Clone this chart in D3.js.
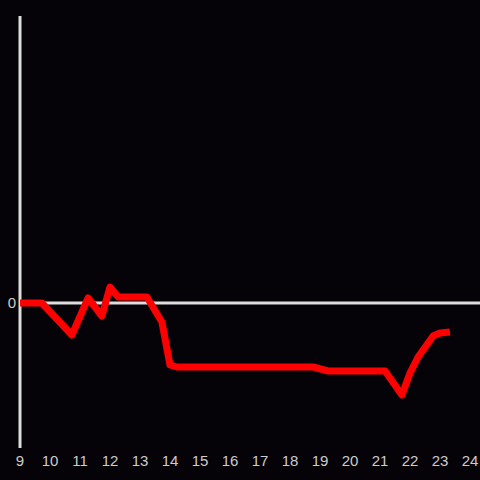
<!DOCTYPE html>
<html>
<head>
<meta charset="utf-8">
<script src="https://cdn.jsdelivr.net/npm/d3@7"></script>
<style>
  html, body { margin: 0; padding: 0; background: #050308; }
  svg { display: block; }
</style>
</head>
<body>
<div id="chart"></div>
<script>
// hour of day, and value at that hour
var hours  = [9.0, 9.73, 10.73, 11.27, 11.73, 12.0, 12.27, 13.23, 13.73, 14.0, 14.23, 18.77, 19.27, 21.17, 21.73, 22.0, 22.27, 22.77, 23.0, 23.33];
var values = [0, 0, -3.2, 0.5, -1.3, 1.6, 0.6, 0.6, -1.9, -6.2, -6.4, -6.4, -6.8, -6.8, -9.2, -7.0, -5.4, -3.3, -3.0, -2.9];
var xTicks = d3.range(9, 25);
var yTicks = [0];

var width = 480, height = 480;

var svg = d3.select("#chart")
  .append("svg")
    .attr("width", width)
    .attr("height", height)
    .style("background", "#050308");

// set the scales
var x = d3.scaleLinear().domain([9, 24]).range([20, 470]);
var y = d3.scaleLinear().domain([-14.5, 28.7]).range([448, 16]);

// y axis line
svg.append("line")
  .attr("x1", x(9)).attr("x2", x(9))
  .attr("y1", y(-14.5)).attr("y2", y(28.7))
  .attr("stroke", "#dddddd")
  .attr("stroke-width", 3);

// zero line
svg.append("line")
  .attr("x1", x(9)).attr("x2", width)
  .attr("y1", y(0)).attr("y2", y(0))
  .attr("stroke", "#dddddd")
  .attr("stroke-width", 3);

// y tick labels
svg.selectAll("text.ylab")
  .data(yTicks)
  .enter()
  .append("text")
    .attr("class", "ylab")
    .attr("x", 16)
    .attr("y", function(d) { return y(d); })
    .attr("dy", "0.35em")
    .attr("text-anchor", "end")
    .attr("fill", "#cccccc")
    .style("font-family", "'Liberation Sans', Arial, sans-serif")
    .style("font-size", "15px")
    .text(function(d) { return d; });

// x tick labels
svg.selectAll("text.xlab")
  .data(xTicks)
  .enter()
  .append("text")
    .attr("class", "xlab")
    .attr("x", function(d) { return x(d); })
    .attr("y", 466)
    .attr("text-anchor", "middle")
    .attr("fill", "#cccccc")
    .style("font-family", "'Liberation Sans', Arial, sans-serif")
    .style("font-size", "15px")
    .text(function(d) { return d; });

// the red line
var line = d3.line()
  .x(function(d, i) { return x(hours[i]); })
  .y(function(d) { return y(d); });

svg.append("path")
  .datum(values)
  .attr("d", line)
  .attr("fill", "none")
  .attr("stroke", "#ff0000")
  .attr("stroke-width", 7)
  .attr("stroke-linejoin", "round");
</script>
</body>
</html>
